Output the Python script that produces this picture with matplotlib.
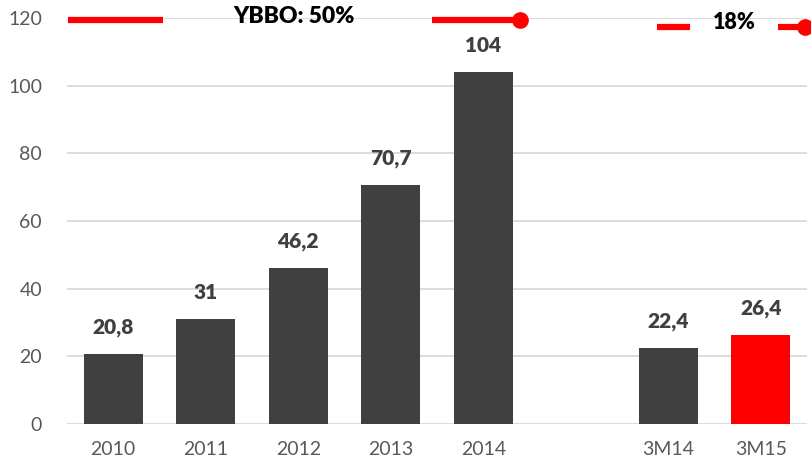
import matplotlib
matplotlib.use("Agg")
import matplotlib.pyplot as plt

plt.rcParams['font.family'] = ['Lato', 'DejaVu Sans']

categories = ["2010", "2011", "2012", "2013", "2014", "", "3M14", "3M15"]
values = [20.8, 31, 46.2, 70.7, 104, None, 22.4, 26.4]
value_labels = ["20,8", "31", "46,2", "70,7", "104", "", "22,4", "26,4"]
bar_colors = ["#404040", "#404040", "#404040", "#404040", "#404040", "#404040", "#404040", "#ff0000"]
yticks = [0, 20, 40, 60, 80, 100, 120]
growth_labels = ["YBBO: 50%", "18%"]

fig = plt.figure(figsize=(8.12, 4.69), dpi=100)
ax = fig.add_axes([67/812, 1-424/469, 740/812, (424-18)/469])

xs = list(range(len(categories)))
for x, v, lab, c in zip(xs, values, value_labels, bar_colors):
    if v is None:
        continue
    ax.bar(x, v, width=0.64, color=c, zorder=3)
    ax.annotate(lab, (x, v), xytext=(0, 19), textcoords="offset points",
                ha="center", va="center", fontsize=15, fontweight="heavy",
                color="#404040", zorder=4)

ax.set_xlim(-0.5, 7.5)
ax.set_ylim(0, 120)
ax.set_yticks(yticks)
ax.set_xticks(xs)
ax.set_xticklabels(categories)
ax.tick_params(axis="both", length=0, labelsize=14, labelcolor="#595959")
ax.tick_params(axis="x", pad=12)
ax.tick_params(axis="y", pad=18)
ax.grid(axis="y", color="#d9d9d9", linewidth=1.3, zorder=0)
for s in ax.spines.values():
    s.set_visible(False)
ax.set_axisbelow(True)

red = "#ff0000"
# growth annotation 1
y1 = 119.4
ax.plot([-0.49, 0.54], [y1, y1], color=red, lw=4.5, solid_capstyle="butt", zorder=5, clip_on=False)
ax.plot([3.45, 4.40], [y1, y1], color=red, lw=4.5, solid_capstyle="butt", zorder=5, clip_on=False)
ax.plot([4.40], [y1], "o", color=red, ms=11, zorder=6, clip_on=False)
ax.text(1.95, 120.4, growth_labels[0], ha="center", va="center", fontsize=16.5,
        fontweight="heavy", color="black", zorder=6)
# growth annotation 2
y2 = 117.4
ax.plot([5.88, 6.24], [y2, y2], color=red, lw=4.5, solid_capstyle="butt", zorder=5, clip_on=False)
ax.plot([7.19, 7.48], [y2, y2], color=red, lw=4.5, solid_capstyle="butt", zorder=5, clip_on=False)
ax.plot([7.48], [y2], "o", color=red, ms=11, zorder=6, clip_on=False)
ax.text(6.71, 118.6, growth_labels[1], ha="center", va="center", fontsize=15.5,
        fontweight="heavy", color="black", zorder=6)

fig.savefig("out.png", dpi=100)
